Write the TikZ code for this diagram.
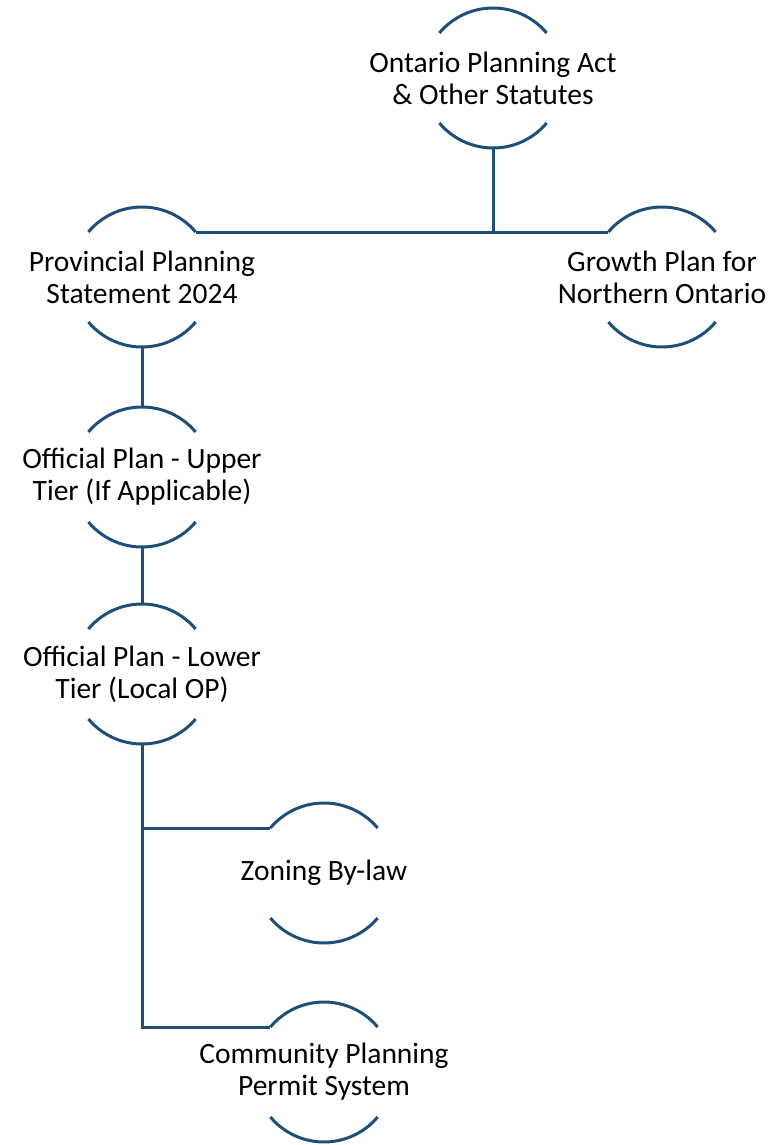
\documentclass[tikz,border=0pt]{standalone}
\usepackage{fontspec}
\setmainfont{Carlito}
\usetikzlibrary{positioning,calc}
\definecolor{planblue}{RGB}{31,78,121}
\tikzset{
  ring/.style={circle, minimum size=140pt, inner sep=0pt, outer sep=0pt},
  plantext/.style={align=center, font=\fontsize{29.5}{32}\selectfont, text=black},
  link/.style={draw=planblue, line width=3pt, line join=miter},
}

\begin{document}
\begin{tikzpicture}[x=1pt,y=1pt]
\useasboundingbox (0,0) rectangle (773,-1145);
% rings
\node[ring] (opa) at (493,-78) {};
\node[ring] (pps) at (142,-277) {};
\node[ring] (gpn) at (662,-277) {};
\node[ring] (upt) at (142,-477) {};
\node[ring] (lot) at (142,-674) {};
\node[ring] (zbl) at (324,-873) {};
\node[ring] (cpp) at (324,-1072) {};
% texts and arcs
\foreach \r/\t in {opa/{Ontario Planning Act\\ \& Other Statutes},
    pps/{Provincial Planning\\ Statement 2024},
    gpn/{Growth Plan for\\ Northern Ontario},
    upt/{Official Plan - Upper\\ Tier (If Applicable)},
    lot/{Official Plan - Lower\\ Tier (Local OP)},
    zbl/{Zoning By-law},
    cpp/{Community Planning\\ Permit System}}{
  \node[plantext] (\r-t) at (\r.center) {\t};
  \draw[link] (\r.40) arc (40:140:70);
  \draw[link] (\r.220) arc (220:320:70);
}
% connectors
\draw[link] (opa.south) -- (opa.south |- pps.40);
\draw[link] (pps.40) -- (gpn.140);
\draw[link] (pps.south) -- (upt.north);
\draw[link] (upt.south) -- (lot.north);
\draw[link] (lot.south) -- (lot.south |- cpp.140) -- (cpp.140);
\draw[link] (lot.south |- zbl.140) -- (zbl.140);
\end{tikzpicture}
\end{document}
